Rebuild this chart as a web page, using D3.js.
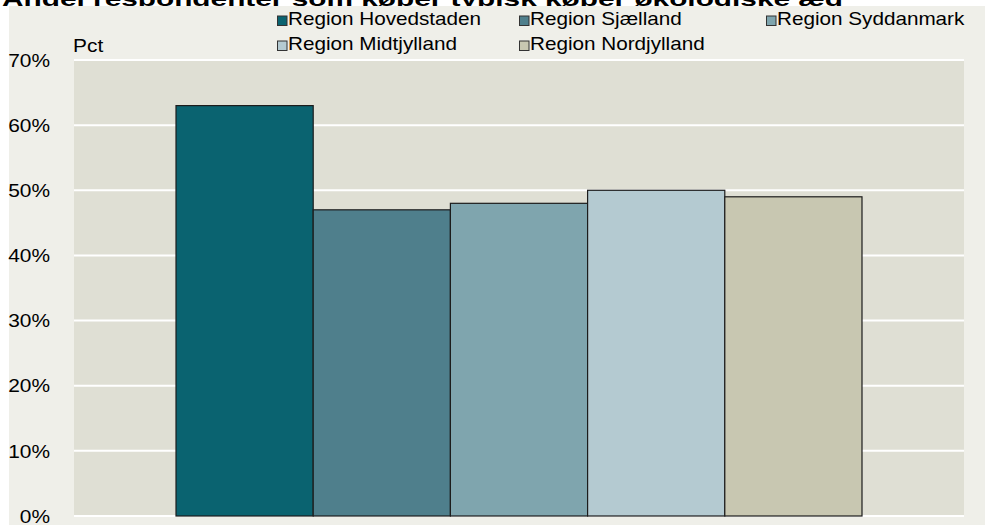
<!DOCTYPE html>
<html>
<head>
<meta charset="utf-8">
<title>Økologiske æg</title>
<script src="https://cdnjs.cloudflare.com/ajax/libs/d3/7.8.5/d3.min.js"></script>
<style>
  body { margin: 0; background: #fff; }
  svg text { font-family: "Liberation Sans", Arial, sans-serif; fill: #000; }
</style>
</head>
<body>
<svg id="chart" width="985" height="528"></svg>
<script>
// data
var regions = ["Region Hovedstaden", "Region Sjælland", "Region Syddanmark", "Region Midtjylland", "Region Nordjylland"];
var values = [0.63, 0.47, 0.48, 0.50, 0.49];
var colors = ["#0A6370", "#4F7F8C", "#7FA5AE", "#B4CAD1", "#C8C7B1"];
var yTicks = [0, 0.1, 0.2, 0.3, 0.4, 0.5, 0.6, 0.7];
var title = "Andel respondenter som køber typisk køber økologiske æg";

var svg = d3.select("#chart");
var plot = {left: 74, right: 964, top: 60, bottom: 516};

// title sits above the chart box, its lower part hidden behind it (as in the original)
svg.append("text")
  .attr("x", 2).attr("y", 6)
  .attr("textLength", 841).attr("lengthAdjust", "spacingAndGlyphs")
  .style("font-size", "21px").style("font-weight", "bold")
  .text(title);

svg.append("rect")
  .attr("x", 9).attr("y", 6).attr("width", 976).attr("height", 519)
  .attr("fill", "#EFEFE9");

svg.append("rect")
  .attr("x", plot.left).attr("y", plot.top)
  .attr("width", plot.right - plot.left).attr("height", plot.bottom - plot.top)
  .attr("fill", "#DFDFD4");

var y = d3.scaleLinear().domain([0, 0.7]).range([plot.bottom, plot.top]);

var x0 = d3.scaleBand().domain(["alle"]).range([plot.left, plot.right])
  .paddingInner(0).paddingOuter(0.1487);
var x1 = d3.scaleBand().domain(regions).range([0, x0.bandwidth()]).padding(0);

// gridlines
svg.append("g").selectAll("line").data(yTicks).enter().append("line")
  .attr("x1", plot.left).attr("x2", plot.right)
  .attr("y1", function(d) { return y(d); })
  .attr("y2", function(d) { return y(d); })
  .attr("stroke", "#fff").attr("stroke-width", 2);

// y axis labels
var yAxis = d3.axisLeft(y).tickValues(yTicks).tickFormat(d3.format(".0%")).tickSize(0);
var ya = svg.append("g").attr("transform", "translate(55,0)").call(yAxis);
ya.select(".domain").remove();
ya.selectAll("text")
  .attr("x", 0).attr("dy", "0.35em")
  .style("font-size", "19px").style("font-family", "Liberation Sans, Arial, sans-serif")
  .attr("fill", "#000")
  .attr("transform", "scale(1.1,1)")
  .attr("text-anchor", "end");
ya.selectAll(".tick").attr("transform", function(d) { return "translate(-5," + y(d) + ")"; });

svg.append("text")
  .attr("transform", "translate(73,52) scale(1.1,1)")
  .style("font-size", "19px")
  .text("Pct");

// bars
svg.append("g").attr("transform", "translate(" + x0("alle") + ",0)")
  .selectAll("rect").data(regions).enter().append("rect")
  .attr("x", function(d) { return x1(d); })
  .attr("y", function(d, i) { return y(values[i]); })
  .attr("width", x1.bandwidth())
  .attr("height", function(d, i) { return y(0) - y(values[i]); })
  .attr("fill", function(d, i) { return colors[i]; })
  .attr("stroke", "#1c1c1c").attr("stroke-width", 1.2);

// legend, three columns, two rows
var legCols = [277, 519, 766];
var legRows = [25, 50];
var leg = svg.append("g").selectAll("g").data(regions).enter().append("g")
  .attr("transform", function(d, i) {
    return "translate(" + legCols[i % 3] + "," + legRows[Math.floor(i / 3)] + ")";
  });
leg.append("rect")
  .attr("x", 0.5).attr("y", -9).attr("width", 9.5).attr("height", 9.5)
  .attr("fill", function(d, i) { return colors[i]; })
  .attr("stroke", "#333").attr("stroke-width", 1);
leg.append("text")
  .attr("transform", "translate(11,0) scale(1.15,1)")
  .style("font-size", "18px")
  .text(function(d) { return d; });
</script>
</body>
</html>
